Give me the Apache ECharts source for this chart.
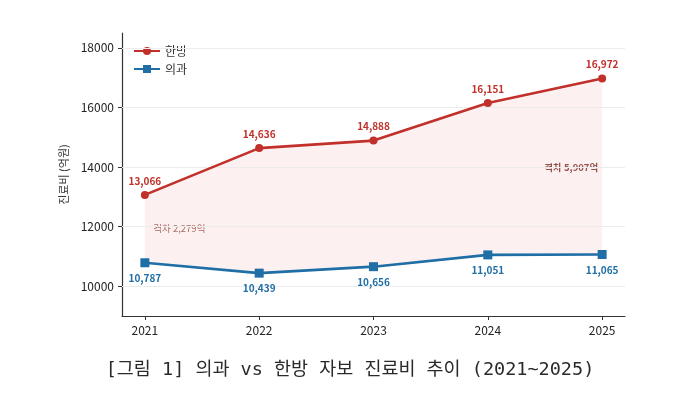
<!DOCTYPE html>
<html>
<head>
<meta charset="utf-8">
<script src="https://cdn.jsdelivr.net/npm/echarts@6/dist/echarts.min.js"></script>
<style>
  html, body { margin: 0; padding: 0; background: #fff; }
  #main { width: 700px; height: 394px; }
</style>
</head>
<body>
<div id="main"></div>
<script>
// 연도 / 진료비 (억원)
var years = [2021, 2022, 2023, 2024, 2025]
var hanbang = [13066, 14636, 14888, 16151, 16972]
var uigwa = [10787, 10439, 10656, 11051, 11065]
var yTicks = [10000, 12000, 14000, 16000, 18000]
var gapNotes = ["격차 2,279억", "격차 5,907억"]

var RED = "#c1302a"
var BLUE = "#1f6ea6"

function pairs(vals) {
    return years.map(function(y, i) { return [y, vals[i]] })
}

var myEcharts = echarts.init(document.getElementById("main"))
var option = {
    animation: false,
    textStyle: { fontFamily: "Noto Sans CJK KR" },
    title: {
        text: "[그림 1] 의과 vs 한방 자보 진료비 추이 (2021~2025)",
        left: "center",
        top: 356,
        textStyle: { fontSize: 18.5, fontWeight: "normal", color: "#2a2a2a", fontFamily: "DejaVu Sans Mono, Noto Sans CJK KR" }
    },
    legend: {
        left: 128,
        top: 40,
        orient: "vertical",
        itemGap: 6,
        itemWidth: 26,
        itemHeight: 10,
        data: ["한방", "의과"],
        textStyle: { fontSize: 12, color: "#333" }
    },
    grid: { left: 122, right: 75, top: 33, bottom: 78 },
    xAxis: {
        type: "value",
        min: 2020.8,
        max: 2025.2,
        splitLine: { show: false },
        axisLine: { lineStyle: { color: "#333", width: 1.2 } },
        axisTick: { show: true, customValues: years, length: 4, lineStyle: { color: "#333" } },
        axisLabel: {
            customValues: years,
            color: "#222",
            fontSize: 12,
            margin: 8,
            formatter: function(v) { return String(v) }
        }
    },
    yAxis: {
        type: "value",
        min: 9000,
        max: 18500,
        name: "진료비 (억원)",
        nameLocation: "middle",
        nameGap: 40,
        nameTextStyle: { fontSize: 11, color: "#333" },
        splitLine: { show: false },
        axisLine: { show: true, lineStyle: { color: "#333", width: 1.2 } },
        axisTick: { show: true, customValues: yTicks, length: 4, lineStyle: { color: "#333" } },
        axisLabel: {
            customValues: yTicks,
            color: "#222",
            fontSize: 12,
            margin: 8,
            formatter: function(v) { return String(v) }
        }
    },
    series: [
        {
            // 격차 영역 (두 선 사이)
            type: "custom",
            silent: true,
            data: [0],
            renderItem: function(params, api) {
                var top = hanbang.map(function(v, i) { return api.coord([years[i], v]) })
                var bottom = uigwa.map(function(v, i) { return api.coord([years[i], v]) }).reverse()
                return {
                    type: "polygon",
                    shape: { points: top.concat(bottom) },
                    style: { fill: "rgba(214, 80, 70, 0.08)" }
                }
            },
            markLine: {
                silent: true,
                symbol: "none",
                label: { show: false },
                lineStyle: { color: "#ececec", type: "solid", width: 1 },
                data: yTicks.map(function(v) { return { yAxis: v } })
            },
            z: 1
        },
        {
            type: "scatter",
            silent: true,
            symbolSize: 0,
            data: [
                { value: [2021.03, 11950], label: { position: "right", color: "#9a4a44", fontWeight: "normal" } },
                { value: [2024.73, 14000], label: { position: "inside", color: "#7a2a26", fontWeight: "bold" } }
            ].map(function(d, i) {
                d.label.show = true
                d.label.fontSize = 9.5
                d.label.formatter = gapNotes[i]
                return d
            }),
            z: 2
        },
        {
            name: "한방",
            type: "line",
            data: pairs(hanbang),
            symbol: "circle",
            symbolSize: 8,
            itemStyle: { color: RED },
            lineStyle: { color: RED, width: 2.6 },
            label: {
                show: true,
                position: "top",
                distance: 5,
                color: RED,
                fontSize: 10,
                fontWeight: "bold",
                formatter: function(p) { return p.value[1].toLocaleString("en-US") }
            },
            z: 5
        },
        {
            name: "의과",
            type: "line",
            data: pairs(uigwa),
            symbol: "rect",
            symbolSize: 9,
            itemStyle: { color: BLUE },
            lineStyle: { color: BLUE, width: 2.6 },
            label: {
                show: true,
                position: "bottom",
                distance: 6,
                color: BLUE,
                fontSize: 10,
                fontWeight: "bold",
                formatter: function(p) { return p.value[1].toLocaleString("en-US") }
            },
            z: 5
        }
    ]
}
myEcharts.setOption(option)
</script>
</body>
</html>
